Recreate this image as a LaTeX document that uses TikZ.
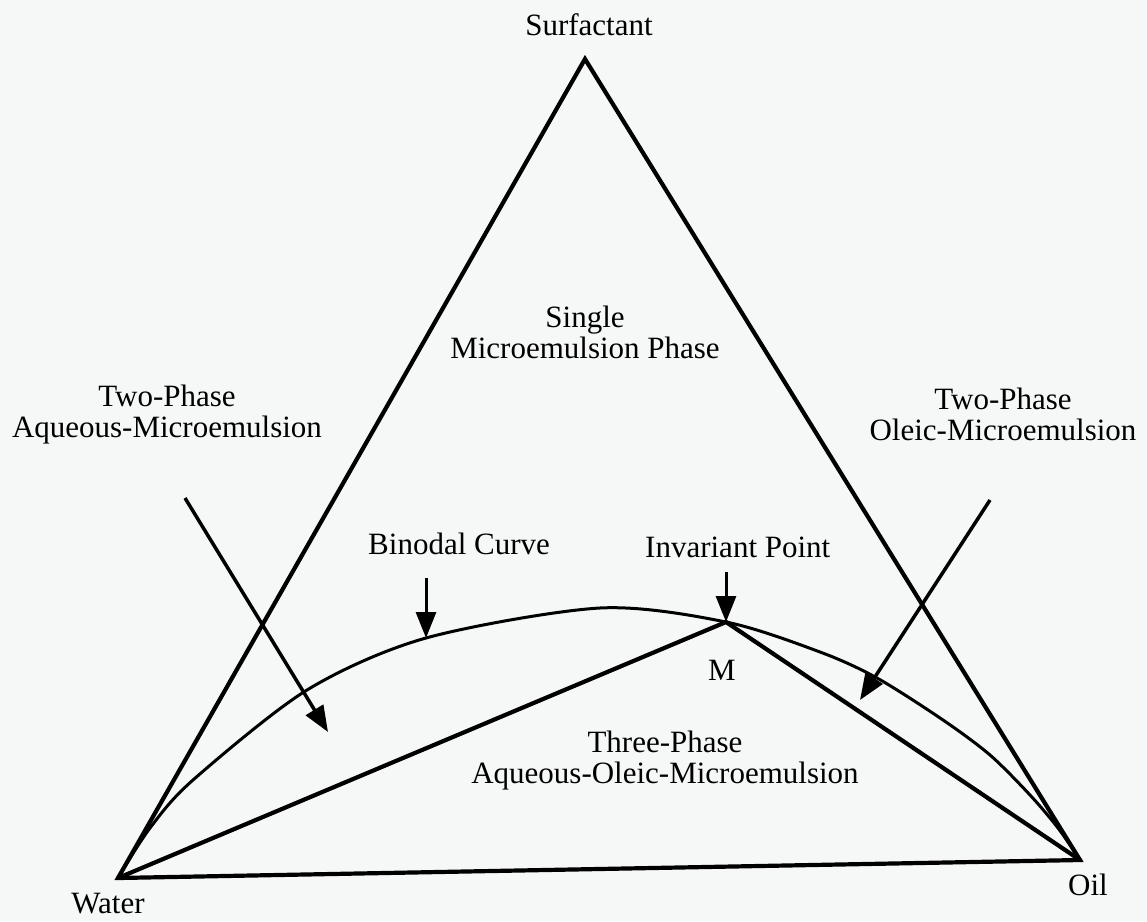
\documentclass[tikz,border=0pt]{standalone}
\usepackage{fontspec}
\setmainfont{Liberation Serif}
\usetikzlibrary{arrows.meta}
\definecolor{paper}{RGB}{246,248,247}
\begin{document}
\begin{tikzpicture}[x=1pt,y=-1pt,
  lbl/.style={font=\fontsize{31}{31}\selectfont, inner sep=0pt, anchor=base, align=center},
  edge/.style={line width=4.2pt, line join=miter, line cap=round},
  curve/.style={line width=3pt},
  pointer/.style={line width=3.5pt, -{Triangle[length=26pt,width=20pt]}},
  smallpointer/.style={line width=3pt, -{Triangle[length=26pt,width=20pt]}}]
\fill[paper] (0,0) rectangle (1147,921);
\useasboundingbox (0,0) rectangle (1147,921);

% vertices
\coordinate (W) at (118,878);
\coordinate (S) at (585,59);
\coordinate (O) at (1080,860);
\coordinate (M) at (726,622);

% triangle
\draw[edge] (W) -- (S) -- (O) -- cycle;

% binodal curve
\draw[curve] plot[smooth, tension=0.5] coordinates {(118,878) (150,828) (193,780) (307,690) (426,638) (600,608) (726,622) (820,652) (877,678) (943,720) (990,755) (1030,795) (1058,828) (1080,860)};

% tie lines to invariant point
\draw[edge] (W) -- (M) -- (O);

% labels
\node[lbl] (surf) at (589,35) {Surfactant};
\node[lbl] (water) at (108,913) {Water};
\node[lbl] (oil) at (1088,895) {Oil};
\node[lbl] (single) at (585,358) {Single\\Microemulsion Phase};
\node[lbl] (left) at (167,437) {Two-Phase\\Aqueous-Microemulsion};
\node[lbl] (right) at (1003,440) {Two-Phase\\Oleic-Microemulsion};
\node[lbl, anchor=base west] (bin) at (368,554) {Binodal Curve};
\node[lbl, anchor=base west] (inv) at (645,557) {Invariant Point};
\node[lbl] (three) at (665,783) {Three-Phase\\Aqueous-Oleic-Microemulsion};
\node[lbl] (mlab) at (722,680) {M};

% arrows
\coordinate (la) at (185,498);
\coordinate (lt) at (328,732);
\coordinate (ra) at (990,500);
\coordinate (rt) at (860,700);
\coordinate (ba) at (426,578);
\coordinate (bt) at (426,638);
\coordinate (ia) at (726,572);

\draw[pointer] (la) -- (lt);
\draw[pointer] (ra) -- (rt);
\draw[smallpointer] (ba) -- (bt);
\draw[smallpointer] (ia) -- (M);
\end{tikzpicture}
\end{document}
